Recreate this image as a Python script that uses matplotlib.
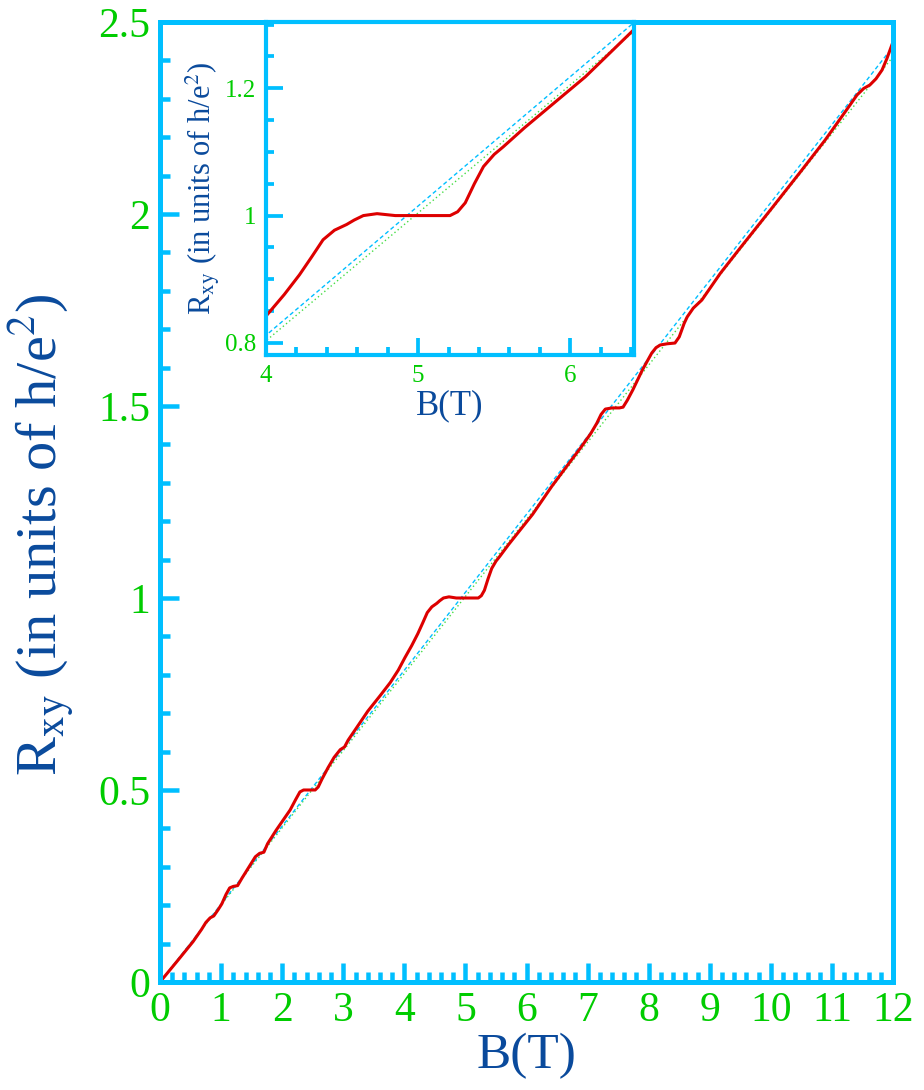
import numpy as np
import matplotlib
matplotlib.use('Agg')
import matplotlib.pyplot as plt
from matplotlib.ticker import MultipleLocator

plt.rcParams['font.family'] = ['Liberation Serif', 'DejaVu Serif']
plt.rcParams['mathtext.fontset'] = 'stix'

# measured Hall resistance (units of h/e^2) vs field B (T)
B = [0.0, 0.3, 0.54, 0.68, 0.75, 0.82, 0.88, 0.95, 1.01, 1.08, 1.14, 1.2, 1.27,
     1.34, 1.45, 1.56, 1.63, 1.7, 1.76, 1.9, 2.0, 2.13, 2.22, 2.29, 2.35, 2.45,
     2.54, 2.59, 2.65, 2.75, 2.85, 2.95, 3.02, 3.08, 3.2, 3.4, 3.6, 3.77, 3.9,
     4.01, 4.12, 4.22, 4.3, 4.375, 4.45, 4.53, 4.58, 4.64, 4.73, 4.85, 5.0, 5.1,
     5.21, 5.26, 5.31, 5.37, 5.43, 5.5, 5.56, 5.7, 5.87, 6.1, 6.41, 6.7, 6.88,
     7.05, 7.15, 7.22, 7.29, 7.4, 7.52, 7.58, 7.65, 7.74, 7.9, 8.05, 8.12, 8.19,
     8.3, 8.43, 8.5, 8.58, 8.63, 8.73, 8.87, 9.17, 9.5, 10.0, 10.5, 10.89, 11.1,
     11.3, 11.41, 11.52, 11.62, 11.72, 11.82, 11.9, 11.98]
Rxy = [0.0, 0.058, 0.105, 0.137, 0.155, 0.167, 0.172, 0.188, 0.203, 0.228, 0.245,
       0.249, 0.251, 0.27, 0.298, 0.326, 0.335, 0.338, 0.36, 0.395, 0.418, 0.448,
       0.475, 0.495, 0.5, 0.5, 0.5, 0.508, 0.528, 0.558, 0.585, 0.605, 0.612,
       0.63, 0.658, 0.705, 0.745, 0.78, 0.812, 0.845, 0.876, 0.907, 0.935, 0.962,
       0.977, 0.986, 0.993, 1.0, 1.003, 1.0, 1.0, 1.0, 1.0, 1.006, 1.02, 1.05,
       1.077, 1.096, 1.108, 1.138, 1.172, 1.218, 1.29, 1.352, 1.39, 1.428, 1.455,
       1.478, 1.492, 1.495, 1.495, 1.497, 1.515, 1.542, 1.595, 1.638, 1.652,
       1.659, 1.662, 1.664, 1.68, 1.715, 1.732, 1.755, 1.776, 1.845, 1.912,
       2.012, 2.113, 2.193, 2.24, 2.285, 2.31, 2.327, 2.336, 2.352, 2.375, 2.405,
       2.44]

# classical lines
B_line = [0, 12]
R_blue = [0, 2.436]
R_green = [0, 2.41]

xticks_main = list(range(0, 13))
yticks_main = [0, 0.5, 1, 1.5, 2, 2.5]
ylabels_main = ['0', '0.5', '1', '1.5', '2', '2.5']
xticks_in = [4, 5, 6]
yticks_in = [0.8, 1.0, 1.2]
ylabels_in = ['0.8', '1', '1.2']

spine_c = '#00BFFF'
tick_c = '#00CC00'
lab_c = '#0A4A9C'
red = '#DD0000'

fig = plt.figure(figsize=(9.24, 10.9), dpi=100)
ax = fig.add_axes([0.1732, 0.0991, 0.7933, 0.8807])


def style(a, lw, size, major, minor):
    for s in a.spines.values():
        s.set_color(spine_c)
        s.set_linewidth(lw)
    a.tick_params(which='both', direction='in', color=spine_c, labelcolor=tick_c,
                  top=False, right=False, width=lw * 0.9)
    a.tick_params(which='major', length=major, labelsize=size, pad=7)
    a.tick_params(which='minor', length=minor)


ax.plot(B_line, R_green, color='#44DD44', lw=1.0, dashes=(1, 2))
ax.plot(B_line, R_blue, color=spine_c, lw=1.0, dashes=(3, 2))
ax.plot(B, Rxy, color=red, lw=2.2)
ax.set_xlim(0, 12)
ax.set_ylim(0, 2.5)
ax.set_xticks(xticks_main)
ax.set_yticks(yticks_main)
ax.set_yticklabels(ylabels_main)
ax.xaxis.set_minor_locator(MultipleLocator(0.2))
ax.yaxis.set_minor_locator(MultipleLocator(0.1))
style(ax, 3.6, 30, 14, 7)
ax.set_xlabel('B(T)', fontsize=37, color=lab_c, labelpad=2)
fig.text(0.045, 0.51, r'R$_{\mathrm{xy}}$ (in units of h/e$^2$)', fontsize=42,
         color=lab_c, rotation=90, ha='center', va='center')

ins = fig.add_axes([0.2879, 0.6743, 0.3983, 0.3055])
ins.plot(B_line, R_green, color='#44DD44', lw=1.0, dashes=(1, 2))
ins.plot(B_line, R_blue, color=spine_c, lw=1.0, dashes=(3, 2))
ins.plot(B, Rxy, color=red, lw=2.2)
ins.set_xlim(4, 6.42)
ins.set_ylim(0.781, 1.304)
ins.set_xticks(xticks_in)
ins.set_yticks(yticks_in)
ins.set_yticklabels(ylabels_in)
ins.xaxis.set_minor_locator(MultipleLocator(0.2))
ins.yaxis.set_minor_locator(MultipleLocator(0.05))
style(ins, 3.0, 18, 12, 6)
ins.set_xlabel('B(T)', fontsize=25, color=lab_c, labelpad=2)
ins.set_ylabel(r'R$_{\mathrm{xy}}$ (in units of h/e$^2$)', fontsize=22,
               color=lab_c, labelpad=2)

fig.savefig('out.png', dpi=100)
